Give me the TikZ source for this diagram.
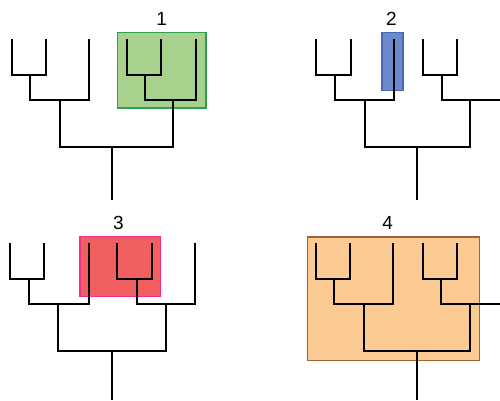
\documentclass[tikz,border=0pt]{standalone}
\usepackage{fontspec}
\setmainfont{Liberation Sans}
\definecolor{gfill}{HTML}{A9D18E}
\definecolor{gline}{HTML}{2E9E4F}
\definecolor{bfill}{HTML}{6A8ACB}
\definecolor{bline}{HTML}{4A68B8}
\definecolor{rfill}{HTML}{F06060}
\definecolor{rline}{HTML}{F0308C}
\definecolor{ofill}{HTML}{FCCB94}
\definecolor{oline}{HTML}{9C6532}
\tikzset{
  branch/.style={draw=black, line width=2pt},
  hl/.style={line width=1.5pt},
  lbl/.style={font=\fontsize{19}{19}\selectfont, inner sep=0pt, anchor=center}
}
\begin{document}
\begin{tikzpicture}[x=1pt,y=-1pt]
\useasboundingbox (0,0) rectangle (500,400);
% highlight boxes
\draw[hl, draw=gline, fill=gfill] (117.3,32.7) rectangle (206,108);
\draw[hl, draw=bline, fill=bfill] (382,32.3) rectangle (403,90.3);
\draw[hl, draw=rline, fill=rfill] (80,236.3) rectangle (160.3,296.3);
\draw[hl, draw=oline, fill=ofill] (307.3,237) rectangle (479.3,360.3);
% labels
\node[lbl] (n1) at (161.7,18.5) {1};
\node[lbl] (n2) at (391.3,18.5) {2};
\node[lbl] (n3) at (118.3,222.5) {3};
\node[lbl] (n4) at (387.7,222.5) {4};
% tree 1
\coordinate (a1) at (11.7,39);
\coordinate (a2) at (45.7,39);
\coordinate (a3) at (89,39);
\coordinate (a4) at (126.7,39);
\coordinate (a5) at (161,39);
\coordinate (a6) at (196,39);
\coordinate (a12) at (30,75);
\coordinate (a123) at (59.5,100);
\coordinate (a45) at (145,75);
\coordinate (a456) at (173,100);
\coordinate (ar) at (111.7,146.7);
\coordinate (ab) at (111.7,200);
\draw[branch] (a1) |- (a12) -| (a2);
\draw[branch] (a12) |- (a123) -| (a3);
\draw[branch] (a4) |- (a45) -| (a5);
\draw[branch] (a45) |- (a456) -| (a6);
\draw[branch] (a123) |- (ar) -| (a456);
\draw[branch] (ar) -- (ab);
% tree 2
\coordinate (b1) at (316,39);
\coordinate (b2) at (350.7,39);
\coordinate (b3) at (394,39);
\coordinate (b4) at (423.3,39);
\coordinate (b5) at (457.3,39);
\coordinate (b12) at (335,75);
\coordinate (b123) at (364.7,100);
\coordinate (b45) at (441.7,75);
\coordinate (be) at (501,100);
\coordinate (bj) at (470,100);
\coordinate (br) at (416.7,146.7);
\coordinate (bb) at (416.7,200);
\draw[branch] (b1) |- (b12) -| (b2);
\draw[branch] (b12) |- (b123) -| (b3);
\draw[branch] (b4) |- (b45) -| (b5);
\draw[branch] (b45) |- (be);
\draw[branch] (b123) |- (br) -| (bj);
\draw[branch] (br) -- (bb);
% tree 3
\coordinate (c1) at (10.3,242.7);
\coordinate (c2) at (44.3,242.7);
\coordinate (c3) at (89,242.7);
\coordinate (c4) at (117.3,242.7);
\coordinate (c5) at (151.7,242.7);
\coordinate (c6) at (195,242.7);
\coordinate (c12) at (29,279);
\coordinate (c123) at (58.3,304.3);
\coordinate (c45) at (136.7,279);
\coordinate (c456) at (165.7,304.3);
\coordinate (cr) at (112.3,351.3);
\coordinate (cb) at (112.3,400);
\draw[branch] (c1) |- (c12) -| (c2);
\draw[branch] (c12) |- (c123) -| (c3);
\draw[branch] (c4) |- (c45) -| (c5);
\draw[branch] (c45) |- (c456) -| (c6);
\draw[branch] (c123) |- (cr) -| (c456);
\draw[branch] (cr) -- (cb);
% tree 4
\coordinate (d1) at (315.7,242.7);
\coordinate (d2) at (350,242.7);
\coordinate (d3) at (393.3,242.7);
\coordinate (d4) at (422.7,242.7);
\coordinate (d5) at (457.3,242.7);
\coordinate (d12) at (334.3,279);
\coordinate (d123) at (364.3,304.3);
\coordinate (d45) at (441,279);
\coordinate (de) at (501,304.3);
\coordinate (dj) at (470,304.3);
\coordinate (dr) at (416.7,351.3);
\coordinate (db) at (416.7,400);
\draw[branch] (d1) |- (d12) -| (d2);
\draw[branch] (d12) |- (d123) -| (d3);
\draw[branch] (d4) |- (d45) -| (d5);
\draw[branch] (d45) |- (de);
\draw[branch] (d123) |- (dr) -| (dj);
\draw[branch] (dr) -- (db);
\end{tikzpicture}
\end{document}
